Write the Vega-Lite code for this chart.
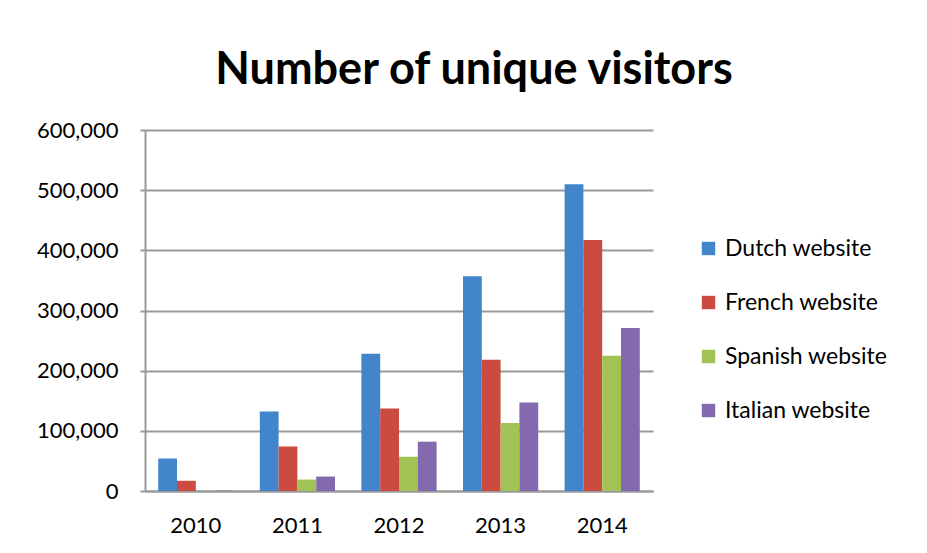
{
  "$schema": "https://vega.github.io/schema/vega-lite/v6.json",
  "width": 508,
  "height": 361,
  "autosize": {"type": "none"},
  "padding": {"left": 145, "top": 130, "right": 274, "bottom": 62},
  "background": "white",
  "title": {
    "text": "Number of unique visitors",
    "font": "Lato",
    "fontSize": 45,
    "fontWeight": "bold",
    "color": "#000000",
    "anchor": "middle",
    "frame": "group",
    "dx": 75,
    "offset": 26
  },
  "data": {
    "values": [
      {"year": "2010", "site": "Dutch website", "visitors": 54000},
      {"year": "2010", "site": "French website", "visitors": 17000},
      {"year": "2010", "site": "Spanish website", "visitors": 0},
      {"year": "2010", "site": "Italian website", "visitors": 600},
      {"year": "2011", "site": "Dutch website", "visitors": 132000},
      {"year": "2011", "site": "French website", "visitors": 74000},
      {"year": "2011", "site": "Spanish website", "visitors": 19000},
      {"year": "2011", "site": "Italian website", "visitors": 24000},
      {"year": "2012", "site": "Dutch website", "visitors": 228000},
      {"year": "2012", "site": "French website", "visitors": 137000},
      {"year": "2012", "site": "Spanish website", "visitors": 57000},
      {"year": "2012", "site": "Italian website", "visitors": 82000},
      {"year": "2013", "site": "Dutch website", "visitors": 357000},
      {"year": "2013", "site": "French website", "visitors": 218000},
      {"year": "2013", "site": "Spanish website", "visitors": 113000},
      {"year": "2013", "site": "Italian website", "visitors": 147000},
      {"year": "2014", "site": "Dutch website", "visitors": 510000},
      {"year": "2014", "site": "French website", "visitors": 417000},
      {"year": "2014", "site": "Spanish website", "visitors": 225000},
      {"year": "2014", "site": "Italian website", "visitors": 271000}
    ]
  },
  "mark": {"type": "bar"},
  "encoding": {
    "x": {
      "field": "year",
      "type": "nominal",
      "title": null,
      "scale": {"paddingInner": 0.26, "paddingOuter": 0.13},
      "axis": {
        "labelAngle": 0,
        "labelFont": "Lato",
        "labelFontSize": 22,
        "labelColor": "#000000",
        "labelPadding": 24,
        "ticks": false,
        "domainColor": "#999999",
        "domainWidth": 2
      }
    },
    "xOffset": {
      "field": "site",
      "type": "nominal",
      "sort": ["Dutch website", "French website", "Spanish website", "Italian website"],
      "scale": {"paddingInner": 0, "paddingOuter": 0}
    },
    "y": {
      "field": "visitors",
      "type": "quantitative",
      "title": null,
      "scale": {"domain": [0, 600000], "nice": false},
      "axis": {
        "values": [0, 100000, 200000, 300000, 400000, 500000, 600000],
        "format": ",d",
        "labelFont": "Lato",
        "labelFontSize": 22,
        "labelColor": "#000000",
        "labelPadding": 22,
        "tickSize": 5,
        "tickColor": "#999999",
        "tickWidth": 2,
        "gridColor": "#999999",
        "gridWidth": 2,
        "domainColor": "#999999",
        "domainWidth": 2
      }
    },
    "color": {
      "field": "site",
      "type": "nominal",
      "sort": ["Dutch website", "French website", "Spanish website", "Italian website"],
      "scale": {
        "domain": ["Dutch website", "French website", "Spanish website", "Italian website"],
        "range": ["#4385CA", "#CC4B41", "#A1C254", "#8569AE"]
      },
      "legend": {
        "title": null,
        "orient": "none",
        "legendX": 552,
        "legendY": 107,
        "symbolType": "square",
        "symbolSize": 180,
        "symbolStrokeWidth": 0,
        "labelFont": "Lato",
        "labelFontSize": 23,
        "labelLimit": 300,
        "labelColor": "#000000",
        "rowPadding": 30,
        "labelOffset": 5
      }
    }
  },
  "config": {
    "view": {"stroke": null}
  }
}
